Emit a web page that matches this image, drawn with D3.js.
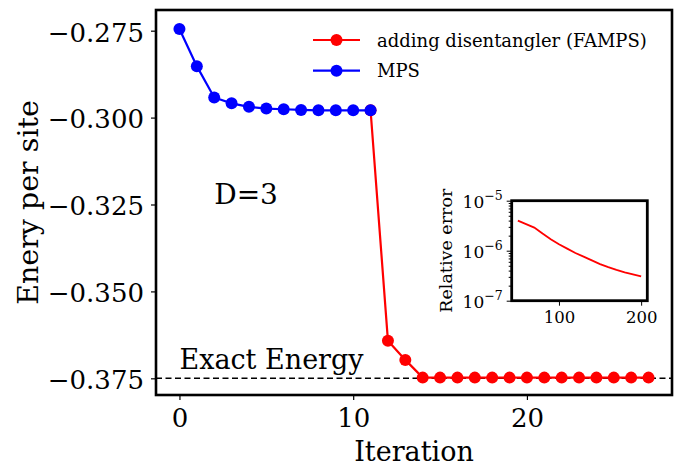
<!DOCTYPE html>
<html lang="en">
<head>
<meta charset="UTF-8">
<title>Energy per site vs iteration</title>
<script src="https://d3js.org/d3.v7.min.js"></script>
<style>
  html, body { margin: 0; background: #fff; }
  svg text { font-family: "DejaVu Serif", "Liberation Serif", serif; fill: #000; }
</style>
</head>
<body>
<div id="chart"></div>
<script>
// data
var iterMPS = [0, 1, 2, 3, 4, 5, 6, 7, 8, 9, 10, 11];
var energyMPS = [-0.2745, -0.2852, -0.2942, -0.2959, -0.2969, -0.2974, -0.2976, -0.2978, -0.2979, -0.2979, -0.2979, -0.2979];
var iterFAMPS = [11, 12, 13, 14, 15, 16, 17, 18, 19, 20, 21, 22, 23, 24, 25, 26, 27];
var energyFAMPS = [-0.2979, -0.3642, -0.3697, -0.3748, -0.3748, -0.3748, -0.3748, -0.3748, -0.3748, -0.3748, -0.3748, -0.3748, -0.3748, -0.3748, -0.3748, -0.3748, -0.3748];
var exactEnergy = -0.375;

var bondDim = [50, 60, 70, 80, 90, 100, 110, 120, 130, 140, 150, 160, 170, 180, 190, 200];
var relError = [4.0e-6, 3.4e-6, 2.9e-6, 2.2e-6, 1.7e-6, 1.35e-6, 1.1e-6, 9.0e-7, 7.6e-7, 6.4e-7, 5.4e-7, 4.7e-7, 4.15e-7, 3.7e-7, 3.35e-7, 3.05e-7];

var xTicks = [0, 10, 20];
var yTicks = [-0.275, -0.300, -0.325, -0.350, -0.375];
var insetXTicks = [100, 200];
var insetYExp = [-7, -6, -5];

var legendNames = ["adding disentangler (FAMPS)", "MPS"];

var width = 678, height = 468;
var box = {left: 156, right: 672, top: 10, bottom: 395};
var ibox = {left: 511.7, right: 647.3, top: 200.7, bottom: 300.7};
var serif = '"DejaVu Serif", serif';

var svg = d3.select('#chart').append('svg')
    .attr('width', width)
    .attr('height', height)
    .attr('font-family', serif);

var x = d3.scaleLinear().domain([-1.35, 28.35]).range([box.left, box.right]);
var y = d3.scaleLinear().domain([-0.3798, -0.26905]).range([box.bottom, box.top]);

// main axes
var xAxis = svg.append('g')
    .attr('transform', 'translate(0,' + box.bottom + ')')
    .call(d3.axisBottom(x).tickValues(xTicks).tickSize(5).tickPadding(9).tickFormat(d3.format('d')));
var yAxis = svg.append('g')
    .attr('transform', 'translate(' + box.left + ',0)')
    .call(d3.axisLeft(y).tickValues(yTicks).tickSize(5).tickPadding(7)
        .tickFormat(function(d){ return d3.format('.3f')(d).replace('-', '\u2212'); }));
[xAxis, yAxis].forEach(function(a){
    a.attr('font-family', serif);
    a.select('.domain').remove();
    a.selectAll('line').attr('stroke', '#000').attr('stroke-width', 1.2);
    a.selectAll('text').attr('font-size', 26);
});
xAxis.selectAll('text').attr('dy', '0.71em');
yAxis.selectAll('text').attr('dy', '0.4em');

// exact energy line
svg.append('line')
    .attr('x1', box.left).attr('x2', box.right)
    .attr('y1', y(exactEnergy)).attr('y2', y(exactEnergy))
    .attr('stroke', '#000').attr('stroke-width', 1.6)
    .attr('stroke-dasharray', '6,3.5');

var line = d3.line()
    .x(function(d){ return x(d[0]); })
    .y(function(d){ return y(d[1]); });

var series = [
    {name: legendNames[0], color: '#ff0000', pts: d3.zip(iterFAMPS, energyFAMPS)},
    {name: legendNames[1], color: '#0000ff', pts: d3.zip(iterMPS, energyMPS)}
];

series.forEach(function(s){
    svg.append('path')
        .attr('d', line(s.pts))
        .attr('fill', 'none')
        .attr('stroke', s.color)
        .attr('stroke-width', 2.2);
    svg.selectAll(null)
        .data(s.pts)
        .enter()
        .append('circle')
        .attr('cx', function(d){ return x(d[0]); })
        .attr('cy', function(d){ return y(d[1]); })
        .attr('r', 6)
        .attr('fill', s.color);
});

// text annotations
svg.append('text')
    .attr('x', x(0)).attr('y', y(exactEnergy) - 9)
    .attr('font-size', 27)
    .text('Exact Energy');
svg.append('text')
    .attr('x', x(2)).attr('y', y(-0.325))
    .attr('font-size', 28)
    .text('D=3');

// legend
var legend = svg.append('g');
series.forEach(function(s, i){
    var ly = 40 + i * 30.7;
    legend.append('line')
        .attr('x1', 313).attr('x2', 360)
        .attr('y1', ly).attr('y2', ly)
        .attr('stroke', s.color).attr('stroke-width', 2.2);
    legend.append('circle')
        .attr('cx', 336.5).attr('cy', ly).attr('r', 6)
        .attr('fill', s.color);
    legend.append('text')
        .attr('x', 377).attr('y', ly + 6.5)
        .attr('font-size', 18)
        .text(s.name);
});

// axis labels
svg.append('text')
    .attr('x', (box.left + box.right) / 2)
    .attr('y', 461)
    .attr('text-anchor', 'middle')
    .attr('font-size', 27)
    .text('Iteration');
svg.append('text')
    .attr('transform', 'translate(38,' + ((box.top + box.bottom) / 2) + ') rotate(-90)')
    .attr('text-anchor', 'middle')
    .attr('font-size', 28.5)
    .text('Enery per site');

// frame
svg.append('rect')
    .attr('x', box.left).attr('y', box.top)
    .attr('width', box.right - box.left).attr('height', box.bottom - box.top)
    .attr('fill', 'none').attr('stroke', '#000').attr('stroke-width', 2.6);

// inset
var ix = d3.scaleLinear().domain([42.5, 207.5]).range([ibox.left, ibox.right]);
var iy = d3.scaleLog().domain([1e-7, 1e-5]).range([ibox.bottom, ibox.top]);

svg.append('rect')
    .attr('x', ibox.left).attr('y', ibox.top)
    .attr('width', ibox.right - ibox.left).attr('height', ibox.bottom - ibox.top)
    .attr('fill', '#fff');

var minor = [];
insetYExp.slice(0, 2).forEach(function(e){
    for (var k = 2; k < 10; k++) minor.push(k * Math.pow(10, e));
});

var iyMinor = svg.append('g')
    .attr('transform', 'translate(' + ibox.left + ',0)')
    .call(d3.axisLeft(iy).tickValues(minor).tickSize(3).tickFormat(''));
var iyMajor = svg.append('g')
    .attr('transform', 'translate(' + ibox.left + ',0)')
    .call(d3.axisLeft(iy).tickValues(insetYExp.map(function(e){ return Math.pow(10, e); }))
        .tickSize(5).tickPadding(4).tickFormat(''));
var ixAxis = svg.append('g')
    .attr('transform', 'translate(0,' + ibox.bottom + ')')
    .call(d3.axisBottom(ix).tickValues(insetXTicks).tickSize(5).tickPadding(6).tickFormat(d3.format('d')));
[iyMinor, iyMajor, ixAxis].forEach(function(a){
    a.attr('font-family', serif);
    a.select('.domain').remove();
    a.selectAll('line').attr('stroke', '#000').attr('stroke-width', 1);
});
ixAxis.selectAll('text').attr('font-size', 16.5).attr('dy', '0.71em');

// log tick labels as 10^n
insetYExp.forEach(function(e){
    var t = svg.append('text')
        .attr('x', ibox.left - 9)
        .attr('y', iy(Math.pow(10, e)) + 7)
        .attr('text-anchor', 'end')
        .attr('font-size', 17);
    t.append('tspan').text('10');
    t.append('tspan').attr('dy', -8).attr('font-size', 12.5).text('\u2212' + Math.abs(e));
});

svg.append('text')
    .attr('transform', 'translate(452,' + ((ibox.top + ibox.bottom) / 2) + ') rotate(-90)')
    .attr('text-anchor', 'middle')
    .attr('font-size', 17.5)
    .text('Relative error');

svg.append('path')
    .attr('d', d3.line()
        .x(function(d){ return ix(d[0]); })
        .y(function(d){ return iy(d[1]); })(d3.zip(bondDim, relError)))
    .attr('fill', 'none')
    .attr('stroke', '#ff0000')
    .attr('stroke-width', 1.8);

svg.append('rect')
    .attr('x', ibox.left).attr('y', ibox.top)
    .attr('width', ibox.right - ibox.left).attr('height', ibox.bottom - ibox.top)
    .attr('fill', 'none').attr('stroke', '#000').attr('stroke-width', 2.8);
</script>
</body>
</html>
